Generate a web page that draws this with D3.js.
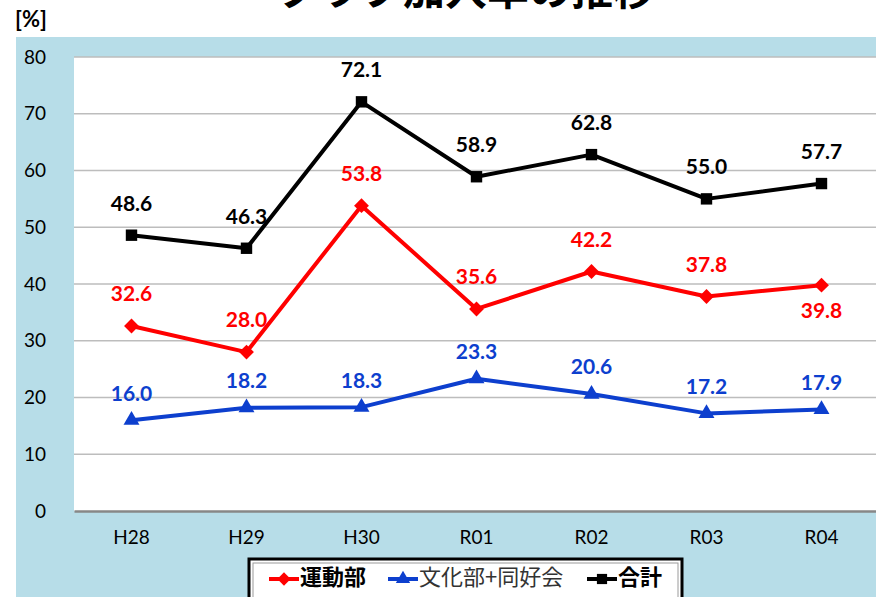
<!DOCTYPE html>
<html>
<head>
<meta charset="utf-8">
<script src="https://cdn.jsdelivr.net/npm/d3@7"></script>
<style>
  body { margin:0; background:#ffffff; }
  svg { display:block; }
</style>
</head>
<body>
<svg id="chart" width="876" height="597"></svg>
<script>
// chart data
const years = ["H28","H29","H30","R01","R02","R03","R04"];
const undou = [32.6, 28.0, 53.8, 35.6, 42.2, 37.8, 39.8];
const bunka = [16.0, 18.2, 18.3, 23.3, 20.6, 17.2, 17.9];
const goukei = [48.6, 46.3, 72.1, 58.9, 62.8, 55.0, 57.7];
const yTicks = [0,10,20,30,40,50,60,70,80];

const PLOT = {
  LEFT:74,
  RIGHT:879,
  TOP:57,
  BOTTOM:511
};
const NUM_FONT = "Lato, 'Noto Sans', sans-serif";
const JP_FONT = "'Noto Sans CJK JP', sans-serif";

let svg = d3.select("#chart");

// blue background panel
svg.append("rect")
   .attr("x",16).attr("y",37)
   .attr("width",876).attr("height",600)
   .attr("fill","#b7dde8");

// title (top part is cut off in the original)
svg.append("text")
   .attr("x",466).attr("y",5)
   .attr("text-anchor","middle")
   .attr("font-family",JP_FONT)
   .attr("font-weight","bold")
   .attr("font-size",42)
   .attr("fill","#000")
   .text("クラブ加入率の推移");

svg.append("text")
   .attr("x",31).attr("y",21)
   .attr("text-anchor","middle")
   .attr("dominant-baseline","middle")
   .attr("font-family",NUM_FONT)
   .attr("font-weight","bold")
   .attr("font-size",22)
   .text("[%]");

// plot area
svg.append("rect")
   .attr("x",PLOT.LEFT).attr("y",PLOT.TOP)
   .attr("width",PLOT.RIGHT-PLOT.LEFT).attr("height",PLOT.BOTTOM-PLOT.TOP)
   .attr("fill","#ffffff");

let xScale = d3.scaleBand()
               .domain(years)
               .range([PLOT.LEFT,PLOT.RIGHT]);
let yScale = d3.scaleLinear()
               .domain([0,80])
               .range([PLOT.BOTTOM,PLOT.TOP]);
let cx = (d)=>xScale(d)+xScale.bandwidth()/2;

// gridlines
svg.append("g")
   .selectAll("line")
   .data(yTicks.filter((d)=>d>0))
   .join("line")
   .attr("x1",PLOT.LEFT).attr("x2",PLOT.RIGHT)
   .attr("y1",(d)=>yScale(d)).attr("y2",(d)=>yScale(d))
   .attr("stroke","#bdbdbd")
   .attr("stroke-width",1.5);

// y axis
let yaxis = d3.axisLeft(yScale).tickValues(yTicks).tickSize(0).tickPadding(28);
let y_axis = svg.append("g")
   .attr("transform","translate("+PLOT.LEFT+",0)")
   .call(yaxis);
y_axis.select(".domain").remove();
y_axis.selectAll("text")
   .attr("font-family",NUM_FONT)
   .attr("font-size",19)
   .attr("fill","#000");

// x axis
let xaxis = d3.axisBottom(xScale).tickSize(0).tickPadding(20);
let x_axis = svg.append("g")
   .attr("transform","translate(0,"+PLOT.BOTTOM+")")
   .call(xaxis);
x_axis.select(".domain")
   .attr("stroke","#878787")
   .attr("stroke-width",2.5);
x_axis.selectAll("text")
   .attr("font-family",NUM_FONT)
   .attr("font-size",19)
   .attr("fill","#000");

// series
const series = [
  {name:"運動部", values:undou, color:"#ff0000", symbol:d3.symbolSquare, rot:45, size:110, bold:true},
  {name:"文化部+同好会", values:bunka, color:"#0d3fce", symbol:d3.symbolTriangle, rot:0, size:110, bold:false},
  {name:"合計", values:goukei, color:"#000000", symbol:d3.symbolSquare, rot:0, size:130, bold:true}
];

let line = d3.line()
             .x((d,i)=>cx(years[i]))
             .y((d)=>yScale(d));

series.forEach(function(s){
  let g = svg.append("g");
  g.append("path")
   .attr("d",line(s.values))
   .attr("fill","none")
   .attr("stroke",s.color)
   .attr("stroke-width",4)
   .attr("stroke-linejoin","round");
  g.selectAll("path.pt")
   .data(s.values)
   .join("path")
   .attr("class","pt")
   .attr("transform",(d,i)=>"translate("+cx(years[i])+","+yScale(d)+") rotate("+s.rot+")")
   .attr("d",d3.symbol().type(s.symbol).size(s.size))
   .attr("fill",s.color);
  g.selectAll("text")
   .data(s.values)
   .join("text")
   .attr("x",(d,i)=>cx(years[i]))
   .attr("y",function(d,i){
     // last red label sits under its point
     if(s.name==="運動部" && i===years.length-1) return yScale(d)+27;
     return yScale(d)-(s.name==="文化部+同好会" ? 25 : 30);
   })
   .attr("text-anchor","middle")
   .attr("dominant-baseline","middle")
   .attr("font-family",NUM_FONT)
   .attr("font-weight","bold")
   .attr("font-size",21)
   .attr("fill",s.color)
   .text((d)=>d.toFixed(1));
});

// legend
let legend = svg.append("g");
legend.append("rect")
   .attr("x",249).attr("y",559)
   .attr("width",433).attr("height",60)
   .attr("fill","#ffffff")
   .attr("stroke","#000")
   .attr("stroke-width",3);
legend.append("rect")
   .attr("x",253).attr("y",563)
   .attr("width",425).attr("height",60)
   .attr("fill","none")
   .attr("stroke","#9a9a9a")
   .attr("stroke-width",1);

const legendX = [269, 388, 587];
series.forEach(function(s,i){
  let lx = legendX[i];
  legend.append("line")
     .attr("x1",lx).attr("x2",lx+30)
     .attr("y1",579).attr("y2",579)
     .attr("stroke",s.color)
     .attr("stroke-width",4);
  legend.append("path")
     .attr("transform","translate("+(lx+15)+",579) rotate("+s.rot+")")
     .attr("d",d3.symbol().type(s.symbol).size(s.size*0.8))
     .attr("fill",s.color);
  legend.append("text")
     .attr("x",lx+31).attr("y",579)
     .attr("dominant-baseline","middle")
     .attr("font-family",JP_FONT)
     .attr("font-weight",s.bold ? "bold" : "normal")
     .attr("font-size",22)
     .attr("fill",s.bold ? "#000" : "#333")
     .text(s.name);
});
</script>
</body>
</html>
